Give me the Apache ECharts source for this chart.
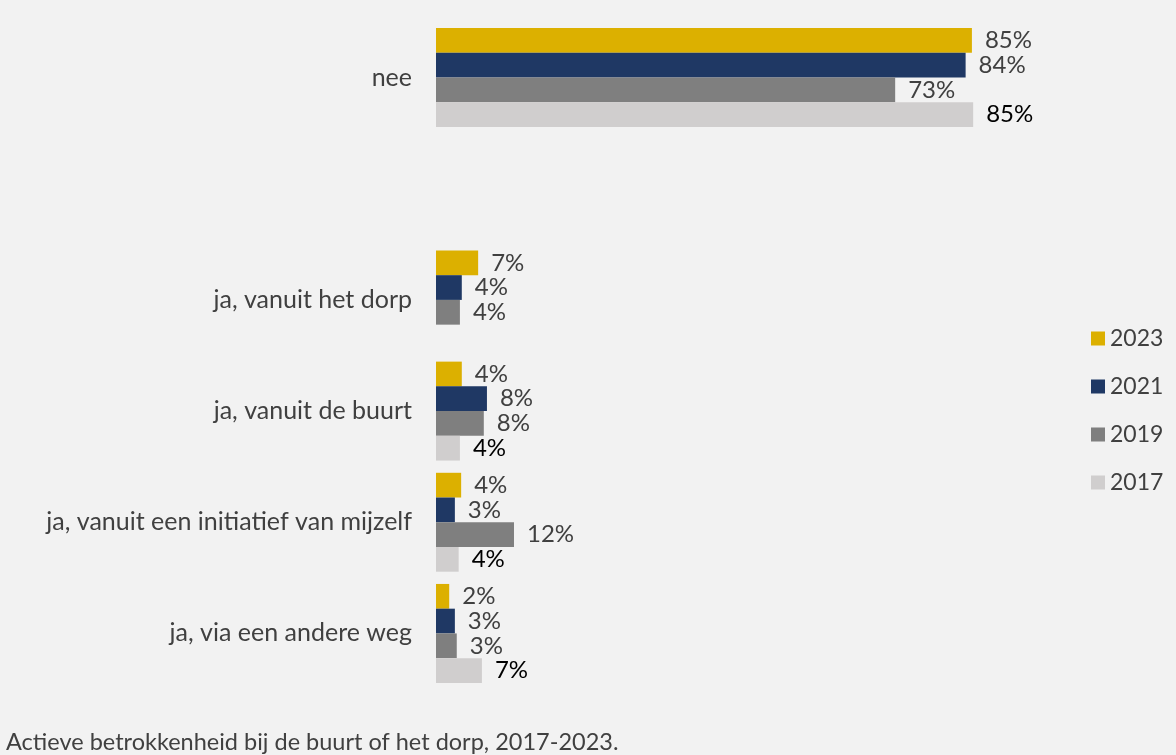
<!DOCTYPE html>
<html>
<head>
<meta charset="utf-8">
<script src="https://cdn.jsdelivr.net/npm/echarts@6/dist/echarts.min.js"></script>
<style>
html,body{margin:0;padding:0;background:#f2f2f2;}
#chart{width:1176px;height:755px;}
</style>
</head>
<body>
<div id="chart"></div>
<script>
const categories = ['nee', '', 'ja, vanuit het dorp', 'ja, vanuit de buurt', 'ja, vanuit een initiatief van mijzelf', 'ja, via een andere weg'];
const seriesNames = ['2023', '2021', '2019', '2017'];
const v2023 = [85.2, null, 6.7, 4.1, 4.0, 2.1];
const v2021 = [84.2, null, 4.1, 8.1, 3.0, 3.0];
const v2019 = [73.0, null, 3.8, 7.6, 12.4, 3.3];
const v2017 = [85.4, null, null, 3.8, 3.6, 7.3];
const caption = 'Actieve betrokkenheid bij de buurt of het dorp, 2017-2023.';

const colors = ['#dcb000', '#1f3864', '#7f7f7f', '#d0cece'];
const labelColors = ['#404040', '#404040', '#404040', '#000000'];
const allValues = [v2023, v2021, v2019, v2017];
const FONT = 'Lato, "Open Sans", sans-serif';

const chart = echarts.init(document.getElementById('chart'), null, {renderer: 'canvas'});
chart.setOption({
  backgroundColor: '#f2f2f2',
  animation: false,
  title: {
    text: caption,
    left: 1,
    top: 725,
    textStyle: {fontFamily: FONT, fontSize: 23.5, fontWeight: 'normal', color: '#404040'}
  },
  legend: {
    orient: 'vertical',
    left: 1086,
    top: 322,
    itemWidth: 14,
    itemHeight: 14,
    itemGap: 25,
    itemTextGap: 6,
    icon: 'rect',
    textStyle: {fontFamily: FONT, fontSize: 23, color: '#404040'},
    data: seriesNames
  },
  grid: {left: 436, right: 111, top: 22, bottom: 66, containLabel: false},
  xAxis: {
    type: 'value', min: 0, max: 100, show: false
  },
  yAxis: {
    type: 'category',
    data: categories,
    inverse: true,
    axisLine: {show: false},
    axisTick: {show: false},
    axisLabel: {fontFamily: FONT, fontSize: 25, color: '#404040', margin: 24}
  },
  series: seriesNames.map((name, i) => ({
    name: name,
    type: 'bar',
    data: allValues[i],
    barGap: '0%',
    barCategoryGap: '11%',
    itemStyle: {color: colors[i]},
    label: {
      show: true,
      position: 'right',
      distance: 13,
      fontFamily: FONT,
      fontSize: 24,
      color: labelColors[i],
      formatter: p => p.value == null ? '' : Math.round(p.value) + '%'
    }
  }))
});
</script>
</body>
</html>
